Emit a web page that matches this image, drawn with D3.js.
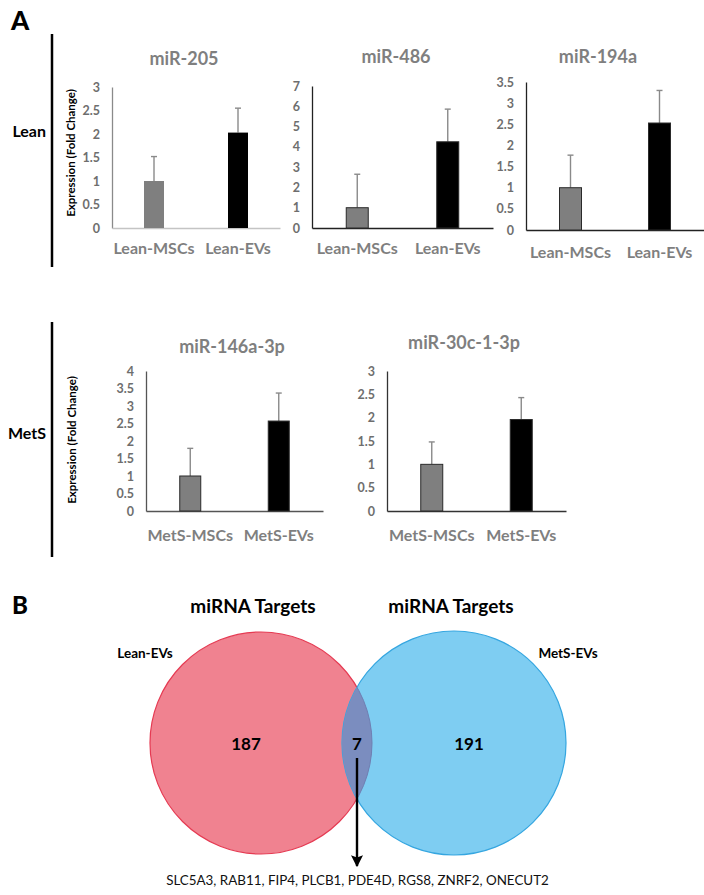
<!DOCTYPE html>
<html><head><meta charset="utf-8">
<script src="https://cdn.jsdelivr.net/npm/d3@7"></script>
<style>
html,body{margin:0;padding:0;background:#fff;}
svg{display:block;font-family:Lato,"Open Sans",sans-serif;}
</style></head>
<body>
<svg id="fig" width="704" height="895"></svg>
<script>
// ---------------- DATA ----------------
const chartTitles = ["miR-205", "miR-486", "miR-194a", "miR-146a-3p", "miR-30c-1-3p"];
const leanGroups = ["Lean-MSCs", "Lean-EVs"];
const metsGroups = ["MetS-MSCs", "MetS-EVs"];
const chartGroups = [leanGroups, leanGroups, leanGroups, metsGroups, metsGroups];
const meanValues = [[1.00, 2.03], [1.00, 4.25], [1.00, 2.53], [1.00, 2.57], [1.00, 1.96]];
const errorValues = [[0.52, 0.52], [1.65, 1.61], [0.77, 0.77], [0.79, 0.80], [0.48, 0.47]];
const yMaxValues = [3, 7, 3.5, 4, 3];
const yTickValues = [
  [0, 0.5, 1, 1.5, 2, 2.5, 3],
  [0, 1, 2, 3, 4, 5, 6, 7],
  [0, 0.5, 1, 1.5, 2, 2.5, 3, 3.5],
  [0, 0.5, 1, 1.5, 2, 2.5, 3, 3.5, 4],
  [0, 0.5, 1, 1.5, 2, 2.5, 3]
];
const rowLabels = ["Lean", "MetS"];
const yAxisTitle = "Expression (Fold Change)";
const vennSetLabels = ["Lean-EVs", "MetS-EVs"];
const vennTitles = ["miRNA Targets", "miRNA Targets"];
const vennCounts = [187, 7, 191]; // left only, shared, right only
const sharedGenes = ["SLC5A3", "RAB11", "FIP4", "PLCB1", "PDE4D", "RGS8", "ZNRF2", "ONECUT2"];

// ---------------- LAYOUT / STYLE ----------------
const layout = [
  {x0:112, x1:280, yTop:87,  yBase:228, barW:20, titleX:184, titleY:65,  labelY:254, yAxisC:"#8a8a8a", xAxisC:"#c4c4c4", outline:false},
  {x0:312, x1:493, yTop:86,  yBase:228, barW:22, titleX:396, titleY:63,  labelY:254, yAxisC:"#222", xAxisC:"#222", outline:true},
  {x0:526, x1:704, yTop:82,  yBase:230, barW:22, titleX:598, titleY:63,  labelY:258, yAxisC:"#222", xAxisC:"#222", outline:true},
  {x0:146, x1:323, yTop:371, yBase:511, barW:21, titleX:232, titleY:353, labelY:541, yAxisC:"#555", xAxisC:"#555", outline:true},
  {x0:387, x1:566, yTop:371, yBase:511, barW:22, titleX:464, titleY:349, labelY:541, yAxisC:"#333", xAxisC:"#333", outline:true}
];
const barColors = ["#7f7f7f", "#000000"];
const grayText = "#7f7f7f";
const tickText = "#6e6e6e";

const svg = d3.select("#fig");

// Panel letters
svg.append("text").attr("x", 11).attr("y", 30).attr("font-size", 26).attr("font-weight", 900)
  .attr("fill", "#000").text("A");
svg.append("text").attr("x", 12).attr("y", 614).attr("font-size", 24).attr("font-weight", 900)
  .attr("fill", "#000").text("B");

// Row separators + labels
const rowSpec = [{y1:34, y2:267, ty:137}, {y1:322, y2:557, ty:439}];
rowSpec.forEach((r, i) => {
  svg.append("line").attr("x1", 52).attr("x2", 52).attr("y1", r.y1).attr("y2", r.y2)
    .attr("stroke", "#000").attr("stroke-width", 2.5);
  svg.append("text").attr("x", 46).attr("y", r.ty).attr("text-anchor", "end")
    .attr("font-size", 16).attr("font-weight", 700).attr("fill", "#000").text(rowLabels[i]);
});

// Y axis titles (one per row)
[{x:70, y:153}, {x:71, y:440}].forEach(p => {
  svg.append("text").attr("transform", `translate(${p.x},${p.y}) rotate(-90)`)
    .attr("text-anchor", "middle").attr("dominant-baseline", "central")
    .attr("font-size", 11.5).attr("font-weight", 700).attr("fill", "#000").text(yAxisTitle);
});

// Bar charts
chartTitles.forEach((title, i) => {
  const L = layout[i];
  const groups = chartGroups[i];
  const x = d3.scaleBand().domain(groups).range([L.x0, L.x1]);
  const y = d3.scaleLinear().domain([0, yMaxValues[i]]).range([L.yBase, L.yTop]);
  const g = svg.append("g");

  // title
  g.append("text").attr("x", L.titleX).attr("y", L.titleY).attr("text-anchor", "middle")
    .attr("font-size", 18).attr("font-weight", 700).attr("fill", grayText).text(title);

  // y axis
  const ya = g.append("g").attr("transform", `translate(${L.x0},0)`)
    .call(d3.axisLeft(y).tickValues(yTickValues[i]).tickSize(0).tickPadding(12)
      .tickFormat(d => String(d)));
  ya.select(".domain").attr("stroke", L.yAxisC).attr("stroke-width", 1.3);
  ya.selectAll("text").attr("font-size", 12.5).attr("font-weight", 700)
    .attr("fill", tickText).attr("font-family", "Lato,sans-serif");

  // x axis
  const xa = g.append("g").attr("transform", `translate(0,${L.yBase})`)
    .call(d3.axisBottom(x).tickSize(0).tickFormat(""));
  xa.select(".domain").attr("stroke", L.xAxisC).attr("stroke-width", 1.3);

  // category labels
  g.selectAll("text.cat").data(groups).join("text").attr("class", "cat")
    .attr("x", d => x(d) + x.bandwidth() / 2).attr("y", L.labelY)
    .attr("text-anchor", "middle").attr("font-size", 16).attr("font-weight", 700)
    .attr("fill", grayText).text(d => d);

  const vals = meanValues[i], errs = errorValues[i];
  // error bars (upper only)
  groups.forEach((gName, j) => {
    const cx = x(gName) + x.bandwidth() / 2;
    g.append("line").attr("x1", cx).attr("x2", cx)
      .attr("y1", y(vals[j])).attr("y2", y(vals[j] + errs[j]))
      .attr("stroke", "#8a8a8a").attr("stroke-width", 1.4);
    g.append("line").attr("x1", cx - 3).attr("x2", cx + 3)
      .attr("y1", y(vals[j] + errs[j])).attr("y2", y(vals[j] + errs[j]))
      .attr("stroke", "#8a8a8a").attr("stroke-width", 1.4);
  });
  // bars
  g.selectAll("rect.bar").data(groups).join("rect").attr("class", "bar")
    .attr("x", d => x(d) + x.bandwidth() / 2 - L.barW / 2)
    .attr("width", L.barW)
    .attr("y", (d, j) => y(vals[j]))
    .attr("height", (d, j) => y(0) - y(vals[j]))
    .attr("fill", (d, j) => barColors[j])
    .attr("stroke", (d, j) => L.outline ? "#2a2a2a" : "none")
    .attr("stroke-width", 1);
});

// ---------------- VENN ----------------
const vennX = d3.scaleLinear().domain([0, 1]).range([261, 454]); // centers of the two sets
const vennCy = 743, rL = 111, rR = 112;
const defs = svg.append("defs");
defs.append("clipPath").attr("id", "clipR").append("circle")
  .attr("cx", vennX(1)).attr("cy", vennCy).attr("r", rR);

svg.append("circle").attr("cx", vennX(0)).attr("cy", vennCy).attr("r", rL)
  .attr("fill", "#f08290").attr("stroke", "#e53a52").attr("stroke-width", 1.2);
svg.append("circle").attr("cx", vennX(1)).attr("cy", vennCy).attr("r", rR)
  .attr("fill", "#7ecdf2").attr("stroke", "#35a6e0").attr("stroke-width", 1.2);
svg.append("circle").attr("cx", vennX(0)).attr("cy", vennCy).attr("r", rL)
  .attr("clip-path", "url(#clipR)").attr("fill", "#7b8dbf").attr("stroke", "#6f7fb2").attr("stroke-width", 1);

// titles
[253, 451].forEach((cx, i) => {
  svg.append("text").attr("x", cx).attr("y", 613).attr("text-anchor", "middle")
    .attr("font-size", 19).attr("font-weight", 700).attr("fill", "#000").text(vennTitles[i]);
});
// set labels
svg.append("text").attr("x", 145).attr("y", 658).attr("text-anchor", "middle")
  .attr("font-size", 13.5).attr("font-weight", 700).attr("fill", "#000").text(vennSetLabels[0]);
svg.append("text").attr("x", 568).attr("y", 658).attr("text-anchor", "middle")
  .attr("font-size", 13.5).attr("font-weight", 700).attr("fill", "#000").text(vennSetLabels[1]);
// counts
[246, 357, 469].forEach((cx, i) => {
  svg.append("text").attr("x", cx).attr("y", 750).attr("text-anchor", "middle")
    .attr("font-size", 17).attr("font-weight", 700).attr("fill", "#000").text(vennCounts[i]);
});
// arrow
defs.append("marker").attr("id", "arr").attr("viewBox", "0 0 10 10").attr("refX", 9).attr("refY", 5)
  .attr("markerWidth", 5).attr("markerHeight", 5).attr("orient", "auto")
  .append("path").attr("d", "M0,0 L10,5 L0,10 L2,5 Z").attr("fill", "#000");
svg.append("line").attr("x1", 357).attr("x2", 357).attr("y1", 758).attr("y2", 866)
  .attr("stroke", "#000").attr("stroke-width", 2.4).attr("marker-end", "url(#arr)");
// genes
svg.append("text").attr("x", 357.5).attr("y", 885).attr("text-anchor", "middle")
  .attr("font-size", 13.4).attr("fill", "#111").text(sharedGenes.join(", "));
</script>
</body></html>
